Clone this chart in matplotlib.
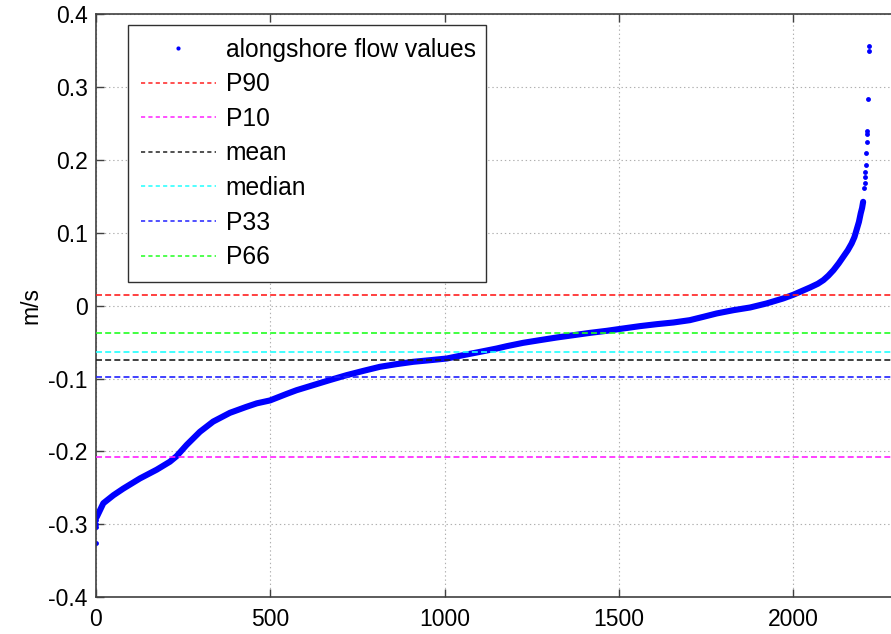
import matplotlib
matplotlib.use("Agg")
import matplotlib.pyplot as plt
from matplotlib.lines import Line2D

plt.rcParams['font.family'] = ['Liberation Sans', 'DejaVu Sans']
plt.rcParams['lines.scale_dashes'] = False

# sorted alongshore flow values (index, m/s)
curve_idx = [2, 21, 50, 78, 126, 174, 212, 231, 260, 298, 336, 384, 430, 461, 499,
             547, 575, 623, 671, 719, 767, 814, 862, 910, 958, 1006, 1053, 1101, 1149,
             1178, 1225, 1273, 1321, 1369, 1417, 1465, 1512, 1560, 1608, 1656, 1703,
             1742, 1780, 1828, 1876, 1923, 1971, 2000, 2024, 2048, 2070, 2086, 2100,
             2115, 2130, 2143, 2156, 2167, 2175, 2181, 2188, 2193, 2197, 2200]
curve_val = [-0.290, -0.271, -0.260, -0.251, -0.237, -0.225, -0.214, -0.2065, -0.191,
             -0.173, -0.159, -0.147, -0.139, -0.134, -0.130, -0.121, -0.116, -0.109,
             -0.102, -0.0953, -0.0894, -0.0839, -0.0802, -0.0770, -0.0748, -0.0725,
             -0.0679, -0.0634, -0.0588, -0.0556, -0.051, -0.0473, -0.0437, -0.0405,
             -0.0373, -0.0345, -0.0313, -0.0281, -0.0254, -0.0231, -0.0199, -0.0153,
             -0.0107, -0.0062, -0.0025, 0.003, 0.0099, 0.0150, 0.020, 0.025, 0.030,
             0.035, 0.041, 0.0487, 0.058, 0.067, 0.076, 0.0853, 0.094, 0.1036, 0.115,
             0.1265, 0.134, 0.1424]
# isolated extreme values at both ends
tail_idx = [0, 0, 1, 1, 2203, 2204, 2205, 2206, 2207, 2209, 2210, 2211, 2212, 2214, 2216, 2217]
tail_val = [-0.325, -0.304, -0.300, -0.294, 0.161, 0.168, 0.177, 0.1835, 0.193, 0.210,
            0.225, 0.236, 0.240, 0.283, 0.349, 0.356]

stat_names = ['P90', 'P10', 'mean', 'median', 'P33', 'P66']
stat_vals = [0.0148, -0.2078, -0.0752, -0.0629, -0.0981, -0.0373]
stat_colors = ['#ff2020', '#ff20ff', '#202020', '#20ffff', '#2020ff', '#20ff20']

xticks = [0, 500, 1000, 1500, 2000]
yticks = [-0.4, -0.3, -0.2, -0.1, 0, 0.1, 0.2, 0.3, 0.4]
ytick_labels = ['-0.4', '-0.3', '-0.2', '-0.1', '0', '0.1', '0.2', '0.3', '0.4']

fig = plt.figure(figsize=(8.91, 6.34), dpi=100)
ax = fig.add_axes([96 / 891, (634 - 597.3) / 634, 2500 * 0.3487 / 891, 583.3 / 634])

ax.plot(curve_idx, curve_val, '-', color='#0000ff', lw=4.4,
        solid_capstyle='round', solid_joinstyle='round', zorder=2)
ax.plot(tail_idx, tail_val, 'o', color='#0000ff', markersize=3.5, mew=0, zorder=2)

dash = (4.3, 2.3)
for v, c in zip(stat_vals, stat_colors):
    ax.axhline(v, color=c, lw=1.2, dashes=dash, zorder=3)

ax.set_xlim(0, 2500)
ax.set_ylim(-0.4, 0.4)
ax.set_xticks(xticks)
ax.set_yticks(yticks)
ax.set_yticklabels(ytick_labels)
ax.tick_params(direction='in', length=6, width=1, color='#404040', labelsize=16.5,
               top=True, right=True, pad=6)
ax.tick_params(axis='x', pad=8)
for s in ax.spines.values():
    s.set_color('#404040')
    s.set_linewidth(1.2)
ax.grid(True, color='#b0b0b0', lw=0.8, dashes=(1, 2))
ax.set_axisbelow(True)
ax.set_ylabel('m/s', fontsize=16.5, labelpad=4)

handles = [Line2D([], [], marker='o', ls='none', color='#0000ff', markersize=3, mew=0)]
for c in stat_colors:
    handles.append(Line2D([], [], color=c, lw=1.1, dashes=(3, 2.3)))
labels = ['alongshore flow values'] + stat_names
leg = ax.legend(handles, labels, loc='upper left',
                bbox_to_anchor=(128 / 891, 1 - 25 / 634, 358 / 891, 0), bbox_transform=fig.transFigure,
                mode='expand', fontsize=17.7, frameon=True, fancybox=False, framealpha=1,
                edgecolor='#303030', handlelength=3.05, handletextpad=0.4,
                labelspacing=0.43, borderpad=0.52, borderaxespad=0)
leg.get_frame().set_linewidth(1.0)

fig.savefig('out.png', dpi=100)
